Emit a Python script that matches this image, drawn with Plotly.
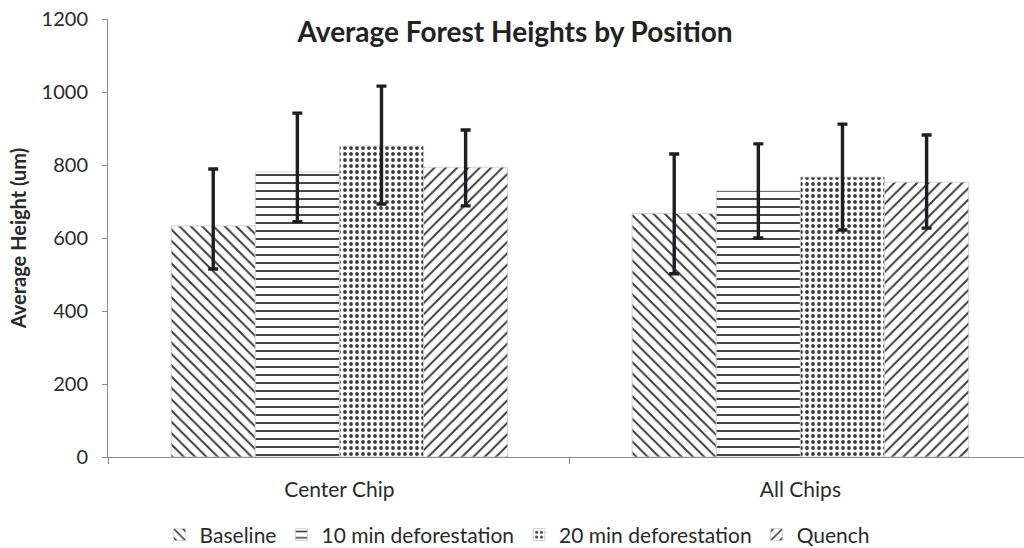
import plotly.graph_objects as go

# Category labels and series
categories = ["Center Chip", "All Chips"]
series_names = ["Baseline", "10 min deforestation", "20 min deforestation", "Quench"]

baseline = [633, 667]
ten_min = [781, 729]
twenty_min = [852, 767]
quench = [794, 753]

# Error bar extents (above / below the bar value)
baseline_err_up = [156, 163]
baseline_err_down = [118, 165]
ten_min_err_up = [161, 129]
ten_min_err_down = [136, 129]
twenty_min_err_up = [164, 145]
twenty_min_err_down = [159, 145]
quench_err_up = [102, 129]
quench_err_down = [106, 126]

y_ticks = [0, 200, 400, 600, 800, 1000, 1200]

values = [baseline, ten_min, twenty_min, quench]
errs_up = [baseline_err_up, ten_min_err_up, twenty_min_err_up, quench_err_up]
errs_down = [baseline_err_down, ten_min_err_down, twenty_min_err_down, quench_err_down]
# hatch shape, tile size, solidity per series
patterns = [("\\", 8, 0.24), ("-", 8, 0.24), (".", 6, 0.32), ("/", 8, 0.24)]

FONT = "Lato"
INK = "#2a2a2a"
AXIS = "#8c8c94"

fig = go.Figure()
for name, vals, up, down, (shape, size, solid) in zip(series_names, values, errs_up, errs_down, patterns):
    fig.add_trace(go.Bar(
        name=name,
        x=categories,
        y=vals,
        marker=dict(
            color="white",
            line=dict(color="#c9c9d2", width=0.8),
            pattern=dict(shape=shape, fgcolor="#3c3c3c", bgcolor="white",
                         size=size, solidity=solid, fillmode="replace"),
        ),
        error_y=dict(type="data", symmetric=False, array=up, arrayminus=down,
                     color="#1e1e22", thickness=3.4, width=5),
    ))

fig.update_layout(
    width=1024, height=548,
    margin=dict(l=108, r=0, t=19, b=91),
    paper_bgcolor="white", plot_bgcolor="white",
    barmode="group", bargap=0.27, bargroupgap=0,
    font=dict(family=FONT, color=INK, size=19),
    title=dict(text="<b>Average Forest Heights by Position</b>",
               x=0.503, xref="container", xanchor="center",
               y=1 - 32 / 548, yref="container", yanchor="middle",
               font=dict(family=FONT, size=28, color="#222222")),
    legend=dict(orientation="h", x=0.505, xref="container", xanchor="center",
                y=1 - 535 / 548, yref="container", yanchor="middle",
                font=dict(family=FONT, size=21, color=INK),
                itemwidth=30, traceorder="normal"),
    showlegend=True,
)

fig.update_xaxes(
    range=[-0.502, 1.485],
    showline=True, linecolor=AXIS, linewidth=1,
    ticks="outside", tickson="boundaries", ticklen=6, tickcolor=AXIS,
    ticklabelstandoff=14,
    showgrid=False, tickfont=dict(family=FONT, size=21, color=INK),
)
fig.update_yaxes(
    range=[0, 1200], tickvals=y_ticks,
    showline=True, linecolor=AXIS, linewidth=1,
    ticks="outside", ticklen=5, tickcolor=AXIS,
    ticklabelstandoff=10,
    showgrid=False, zeroline=False,
    tickfont=dict(family=FONT, size=20, color=INK),
    title=dict(text="<b>Average Height (um)</b>", standoff=9,
               font=dict(family=FONT, size=20, color=INK)),
)

fig.write_html("out.html")
